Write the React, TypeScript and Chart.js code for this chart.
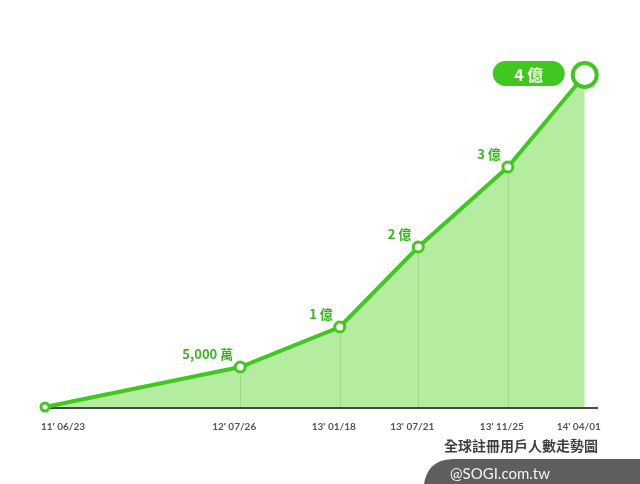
import React, { useEffect, useRef } from "react";
import { Chart, registerables } from "chart.js";

Chart.register(...registerables);

// Timeline position of each milestone along the axis (0–100)
const timelinePos = [0, 35.3, 53.3, 67.5, 83.7, 97.6];
const dateLabels = ["11' 06/23", "12' 07/26", "13' 01/18", "13' 07/21", "13' 11/25", "14' 04/01"];
// Registered users, in 億 (100 million)
const users = [0, 0.5, 1, 2, 3, 4.15];
const pointLabels = ["", "5,000 萬", "1 億", "2 億", "3 億", "4 億"];
const chartTitle = "全球註冊用戶人數走勢圖";
const watermark = "@SOGI.com.tw";

const GREEN = "#40c81e";
const LABEL_GREEN = "#3cb521";
const FILL = "#b4eca0";
const GRID = "#9fd88a";
const FONT = "Lato, 'Noto Sans', sans-serif";
const CJK = "'Noto Sans CJK TC', 'Noto Sans', sans-serif";

const decorPlugin = {
  id: "decor",
  beforeDatasetsDraw(chart: any) {
    const { ctx, chartArea } = chart;
    ctx.save();
    ctx.strokeStyle = "#454a45";
    ctx.lineWidth = 2;
    ctx.beginPath();
    ctx.moveTo(chartArea.left, chartArea.bottom + 1);
    ctx.lineTo(chartArea.right, chartArea.bottom + 1);
    ctx.stroke();
    ctx.restore();
  },
  afterDatasetsDraw(chart: any) {
    const { ctx, chartArea } = chart;
    const meta = chart.getDatasetMeta(0);
    ctx.save();
    ctx.strokeStyle = GRID;
    ctx.lineWidth = 1;
    for (let i = 1; i < users.length - 1; i++) {
      const p = meta.data[i];
      ctx.beginPath();
      ctx.moveTo(Math.round(p.x) + 0.5, p.y + 8);
      ctx.lineTo(Math.round(p.x) + 0.5, chartArea.bottom);
      ctx.stroke();
    }
    ctx.restore();
  },
  afterDraw(chart: any) {
    const { ctx, chartArea, scales } = chart;
    const xs = scales.x;
    const ys = scales.y;
    ctx.save();
    // date tick labels
    ctx.fillStyle = "#555";
    ctx.font = `bold 10px ${FONT}`;
    ctx.textBaseline = "middle";
    dateLabels.forEach((lab, i) => {
      const px = xs.getPixelForValue(timelinePos[i]);
      if (i === 0) {
        ctx.textAlign = "left";
        ctx.fillText(lab, px - 4, chartArea.bottom + 20);
      } else {
        ctx.textAlign = "center";
        ctx.fillText(lab, px - 6, chartArea.bottom + 20);
      }
    });
    // point labels
    ctx.font = `bold 13px ${CJK}`;
    ctx.fillStyle = LABEL_GREEN;
    ctx.textAlign = "right";
    for (let i = 1; i < users.length - 1; i++) {
      const px = xs.getPixelForValue(timelinePos[i]);
      const py = ys.getPixelForValue(users[i]);
      ctx.fillText(pointLabels[i], px - 7, py - 13);
    }
    // pill label for last point
    const li = users.length - 1;
    const lx = xs.getPixelForValue(timelinePos[li]);
    const ly = ys.getPixelForValue(users[li]);
    const w = 72, h = 25;
    const right = lx - 20;
    const left = right - w;
    const top = ly - 14;
    ctx.fillStyle = GREEN;
    ctx.beginPath();
    ctx.roundRect(left, top, w, h, h / 2);
    ctx.fill();
    ctx.fillStyle = "#fff";
    ctx.textAlign = "center";
    ctx.font = `bold 16px ${CJK}`;
    ctx.fillText(pointLabels[li], left + w / 2, top + h / 2 + 1);
    // title
    ctx.fillStyle = "#3f3f3f";
    ctx.textAlign = "right";
    ctx.font = `bold 14px ${CJK}`;
    ctx.fillText(chartTitle, chartArea.right, 446);
    // watermark tab
    ctx.fillStyle = "#5e5e5e";
    ctx.beginPath();
    ctx.moveTo(424, 484);
    ctx.bezierCurveTo(427, 467, 436, 459, 456, 459);
    ctx.lineTo(640, 459);
    ctx.lineTo(640, 484);
    ctx.closePath();
    ctx.fill();
    ctx.fillStyle = "#f2f2f2";
    ctx.textAlign = "left";
    ctx.font = `15px ${FONT}`;
    ctx.fillText(watermark, 450, 474);
    ctx.restore();
  },
};

export default function App() {
  const ref = useRef<HTMLCanvasElement | null>(null);
  useEffect(() => {
    if (!ref.current) return;
    const chart = new Chart(ref.current, {
      type: "line",
      data: {
        datasets: [
          {
            data: timelinePos.map((x, i) => ({ x, y: users[i] })),
            borderColor: GREEN,
            borderWidth: 4,
            backgroundColor: FILL,
            fill: "origin",
            tension: 0,
            clip: false,
            pointRadius: [4, 5, 5, 5, 5, 12],
            pointHoverRadius: [4, 5, 5, 5, 5, 12],
            pointBorderWidth: [3, 3, 3, 3, 3, 4],
            pointBorderColor: GREEN,
            pointBackgroundColor: "#fff",
          },
        ],
      },
      options: {
        responsive: false,
        animation: false,
        layout: { padding: { left: 45, right: 42, top: 47, bottom: 77 } },
        plugins: { legend: { display: false }, tooltip: { enabled: false } },
        scales: {
          x: { type: "linear", min: 0, max: 100, display: false },
          y: { type: "linear", min: 0, max: 4.5, display: false },
        },
      },
      plugins: [decorPlugin],
    });
    return () => chart.destroy();
  }, []);
  return (
    <div style={{ position: "absolute", left: 0, top: 0, width: 640, height: 484, background: "#fff" }}>
      <canvas ref={ref} width={640} height={484} />
    </div>
  );
}
